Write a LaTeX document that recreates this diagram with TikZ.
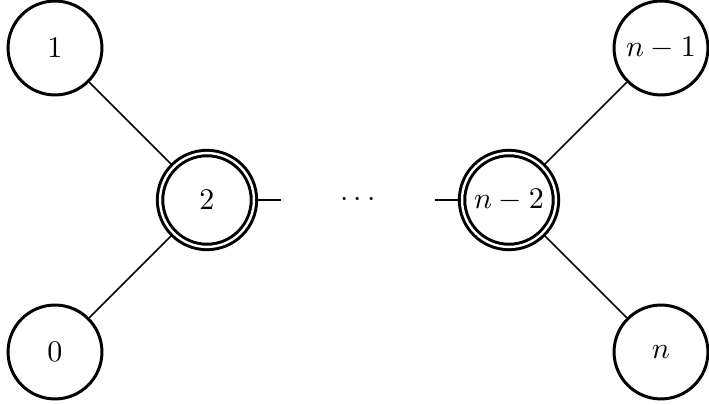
\documentclass[tikz,border=0pt]{standalone}
\begin{document}
\begin{tikzpicture}[x=0.3333pt,y=-0.3333pt,
  vert/.style={circle,draw,line width=1pt,minimum size=31.3pt,inner sep=1pt},
  dvert/.style={vert,double,double distance=0.8pt},
  gap/.style={inner sep=0pt,minimum width=50.7pt,minimum height=10pt},
  edge/.style={line width=0.5pt}]
\useasboundingbox (0,0) rectangle (709,405);
\node[vert] (v1) at (55,48) {$1$};
\node[vert] (v0) at (55,352) {$0$};
\node[dvert] (v2) at (207,200) {$2$};
\node[gap] (d) at (358,200) {$\cdots$};
\node[dvert] (vn2) at (509,200) {$n-2$};
\node[vert] (vn1) at (661,48) {$n-1$};
\node[vert] (vn) at (661,352) {$n$};
\draw[edge] (v1) -- (v2);
\draw[edge] (v0) -- (v2);
\draw[edge] (v2) -- (d);
\draw[edge] (d) -- (vn2);
\draw[edge] (vn2) -- (vn1);
\draw[edge] (vn2) -- (vn);
\end{tikzpicture}
\end{document}
